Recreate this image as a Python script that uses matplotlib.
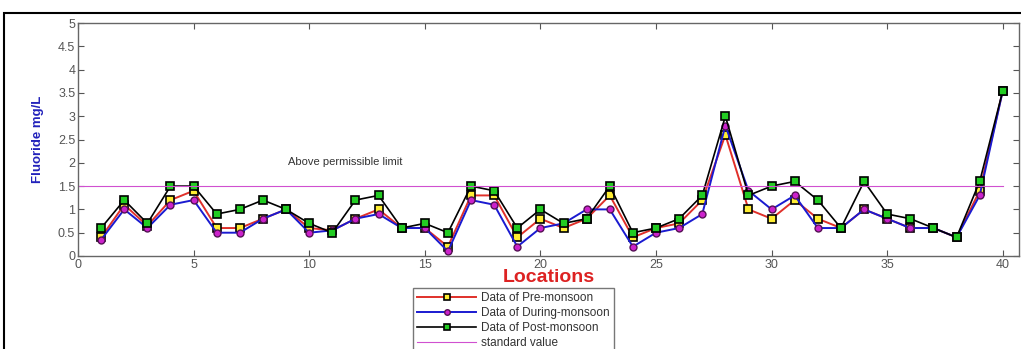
import numpy as np
import matplotlib.pyplot as plt
from matplotlib.patches import Rectangle

plt.rcParams['font.family'] = ['Liberation Sans', 'DejaVu Sans']

# Fluoride (mg/L) por local
locais = np.arange(1, 41)
pre_monsoon = [0.4, 1.1, 0.65, 1.2, 1.4, 0.6, 0.6, 0.8, 1.0, 0.6,
               0.55, 0.8, 1.0, 0.6, 0.6, 0.2, 1.3, 1.3, 0.4, 0.8,
               0.6, 0.8, 1.3, 0.4, 0.6, 0.7, 1.2, 2.6, 1.0, 0.8,
               1.2, 0.8, 0.6, 1.0, 0.8, 0.6, 0.6, 0.4, 1.4, 3.55]
during_monsoon = [0.35, 1.0, 0.6, 1.1, 1.2, 0.5, 0.5, 0.8, 1.0, 0.5,
                  0.55, 0.8, 0.9, 0.6, 0.6, 0.1, 1.2, 1.1, 0.2, 0.6,
                  0.7, 1.0, 1.0, 0.2, 0.5, 0.6, 0.9, 2.8, 1.4, 1.0,
                  1.3, 0.6, 0.6, 1.0, 0.8, 0.6, 0.6, 0.4, 1.3, 3.55]
post_monsoon = [0.6, 1.2, 0.7, 1.5, 1.5, 0.9, 1.0, 1.2, 1.0, 0.7,
                0.5, 1.2, 1.3, 0.6, 0.7, 0.5, 1.5, 1.4, 0.6, 1.0,
                0.7, 0.8, 1.5, 0.5, 0.6, 0.8, 1.3, 3.0, 1.3, 1.5,
                1.6, 1.2, 0.6, 1.6, 0.9, 0.8, 0.6, 0.4, 1.6, 3.55]
limite = 1.5

fig = plt.figure(figsize=(10.21, 3.49), dpi=100)
ax = fig.add_axes([78 / 1021, 1 - 256 / 349, (1019 - 78) / 1021, (256 - 23) / 349])

ax.plot(locais, pre_monsoon, '-s', color='#e0302a', lw=1.4, ms=5.5,
        mfc='#ffee33', mec='black', mew=1.2, label='Data of Pre-monsoon')
ax.plot(locais, during_monsoon, '-o', color='#1a1ad0', lw=1.4, ms=5,
        mfc='#cc22cc', mec='#551155', mew=1.0, label='Data of During-monsoon')
ax.plot(locais, post_monsoon, '-s', color='black', lw=1.2, ms=6,
        mfc='#22cc22', mec='black', mew=1.2, label='Data of Post-monsoon')
ax.plot([0, 40], [limite, limite], color='#d050d0', lw=0.8, label='standard value')

ax.text(9.1, 1.95, 'Above permissible limit', fontsize=8, color='#333333')

ax.set_xlim(0, 40.7)
ax.set_ylim(0, 5)
ax.set_xticks(np.arange(0, 41, 5))
ax.set_yticks(np.arange(0, 5.01, 0.5))
ax.set_yticklabels(['0', '0.5', '1', '1.5', '2', '2.5', '3', '3.5', '4', '4.5', '5'])
ax.tick_params(direction='in', top=True, right=True, labelsize=9,
               colors='#555555', length=4, width=0.8, pad=2)
for s in ax.spines.values():
    s.set_color('#666666')
    s.set_linewidth(1.0)

ax.set_xlabel('Locations', color='#dd2222', fontsize=14, fontweight='bold', labelpad=-1)
ax.set_ylabel('Fluoride mg/L', color='#2222bb', fontsize=9.5, fontweight='bold', labelpad=10)

fig.legend(loc='upper left', bbox_to_anchor=(413 / 1021, 1 - 288 / 349),
           fontsize=8.5, frameon=True, fancybox=False, edgecolor='#555555',
           handlelength=5, borderpad=0.35, labelspacing=0.25, markerscale=0.8,
           handletextpad=0.4, borderaxespad=0, labelcolor='#333333')

# moldura externa
fig.patches.append(Rectangle((4 / 1021, -0.1), 1.1, 1 - 13 / 349 + 0.1,
                             transform=fig.transFigure, fill=False,
                             edgecolor='black', lw=1.5))

fig.savefig('out.png', dpi=100)
